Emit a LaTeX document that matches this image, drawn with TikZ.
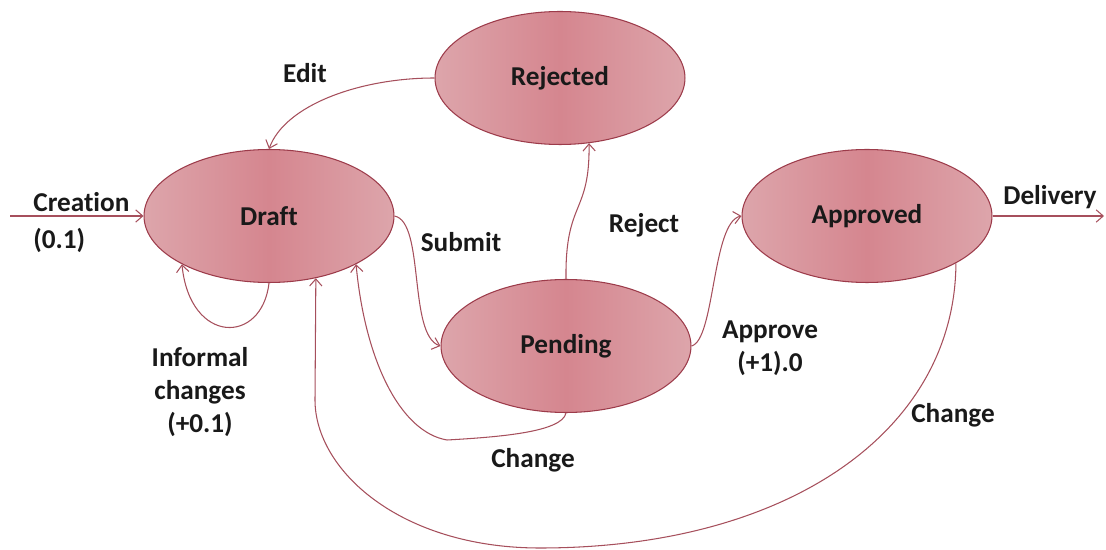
\documentclass[tikz,border=0pt]{standalone}
\usepackage{fontspec}
\setmainfont{Carlito}[Ligatures=NoCommon]
\usetikzlibrary{arrows.meta,shapes.geometric}
\definecolor{rosefill}{HTML}{D5868F}
\definecolor{roseedge}{HTML}{DDA5AB}
\definecolor{roseline}{HTML}{9C3B4A}
\definecolor{wireline}{HTML}{A64F5C}
\begin{document}
\begin{tikzpicture}[x=0.02cm,y=-0.02cm,font=\fontsize{15.5}{19}\selectfont\bfseries,
  state/.style={ellipse,draw=roseline,line width=.6pt,left color=roseedge,right color=roseedge,middle color=rosefill,minimum width=5cm,minimum height=2.66cm,inner sep=0pt,text=black!90},
  flow/.style={draw=wireline,line width=.6pt,-{Straight Barb[length=4pt,width=7pt]}},
  lbl/.style={align=center,inner sep=0pt,text=black!90}]
\useasboundingbox (0,0) rectangle (1106,550);
\node[state] (rejected) at (560,78) {Rejected};
\node[state] (draft) at (269,216) {Draft};
\node[state] (pending) at (566,346) {Pending};
\node[state] (approved) at (867,216) {Approved};
\coordinate (start) at (10,216);
\coordinate (finish) at (1104,216);
\draw[flow] (start) -- (draft.west);
\draw[flow] (draft.south) .. controls (262,345) and (190,345) .. (draft.209);
\draw[flow] (rejected.west) .. controls (360,78) and (285,105) .. (draft.north);
\draw[flow] (draft.east) .. controls (425,222) and (408,335) .. (pending.west);
\draw[flow] (pending.north) .. controls (565,200) and (590,215) .. (rejected.294);
\draw[flow] (pending.east) .. controls (715,340) and (712,222) .. (approved.west);
\draw[flow] (approved.east) -- (finish);
\draw[flow] (pending.south) .. controls (562,432) and (500,437) .. (447,440) .. controls (400,432) and (365,360) .. (draft.331);
\draw[flow] (approved.332) .. controls (955,430) and (790,548) .. (540,548) .. controls (400,548) and (315,470) .. (315,400) -- (draft.307);
\node[lbl,anchor=west] (creation) at (33,202) {Creation};
\node[lbl,anchor=west] (creationval) at (33,240) {(0.1)};
\node[lbl] (edit) at (305,73) {Edit};
\node[lbl] (informal) at (200,392) {Informal\\changes\\(+0.1)};
\node[lbl] (submit) at (461,242) {Submit};
\node[lbl] (reject) at (644,225) {Reject};
\node[lbl] (approve) at (770,348) {Approve\\(+1).0};
\node[lbl] (delivery) at (1050,197) {Delivery};
\node[lbl] (change) at (533,460) {Change};
\node[lbl] (changeback) at (953,415) {Change};
\end{tikzpicture}
\end{document}
